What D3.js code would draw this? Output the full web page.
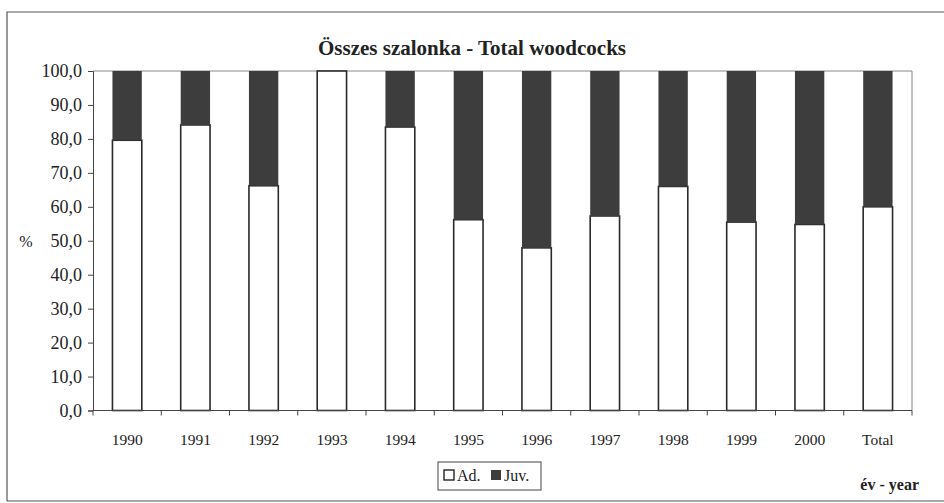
<!DOCTYPE html>
<html><head><meta charset="utf-8">
<script src="https://cdn.jsdelivr.net/npm/d3@7"></script>
<style>body{margin:0;background:#fff}svg{display:block}</style>
</head><body><svg id="c" width="944" height="503"></svg>
<script>
const categories = ["1990","1991","1992","1993","1994","1995","1996","1997","1998","1999","2000","Total"];
const adult = [79.6, 84.1, 66.2, 100.0, 83.5, 56.2, 47.9, 57.3, 66.0, 55.5, 54.8, 60.0];
const juvenile = adult.map(a => +(100 - a).toFixed(1));
const yTicks = [0,10,20,30,40,50,60,70,80,90,100];
const seriesNames = ["Ad.","Juv."];
const seriesColors = ["#ffffff","#3d3d3d"];
const FONT = "'Liberation Serif','Times New Roman','DejaVu Serif',serif";

const svg = d3.select("#c");
const m = {left:93, right:912, top:71, bottom:410.5};
svg.append("path").attr("d","M7,501 L7,12 L944,12 M7,501 L944,501").attr("fill","none").attr("stroke","#555").attr("stroke-width",1.2);

const x = d3.scaleBand().domain(categories).range([m.left,m.right]).paddingInner(0.57).paddingOuter(0.285);
const y = d3.scaleLinear().domain([0,100]).range([m.bottom,m.top]);

svg.append("path").attr("d",`M${m.left},${m.top} L${m.right},${m.top} L${m.right},${m.bottom}`).attr("fill","none").attr("stroke","#888").attr("stroke-width",1);

const stack = d3.stack().keys([0,1])(categories.map((c,i)=>({0:adult[i],1:juvenile[i]})));
stack.forEach((s,k)=>{
  svg.append("g").selectAll("rect").data(s).join("rect")
    .attr("x",(d,i)=>x(categories[i]))
    .attr("width",x.bandwidth())
    .attr("y",d=>y(d[1]))
    .attr("height",d=>Math.max(0,y(d[0])-y(d[1])))
    .attr("fill",seriesColors[k])
    .attr("stroke","#2a2a2a").attr("stroke-width",k===0?1.6:0);
});

const ya = svg.append("g").attr("transform",`translate(${m.left},0)`)
  .call(d3.axisLeft(y).tickValues(yTicks).tickSize(5).tickPadding(6).tickFormat(d=>d3.format(".1f")(d).replace(".",",")));
ya.attr("font-family",FONT).attr("font-size",18);
ya.select(".domain").attr("stroke","#444");
ya.selectAll("line").attr("stroke","#444");
ya.selectAll("text").attr("fill","#222").attr("font-family",FONT).attr("font-size",18);

const xa = svg.append("g").attr("transform",`translate(0,${m.bottom})`);
xa.append("line").attr("x1",m.left).attr("x2",m.right).attr("stroke","#444");
const step = x.step();
xa.selectAll("line.t").data(d3.range(categories.length+1)).join("line").attr("class","t")
  .attr("x1",i=>m.left+i*step).attr("x2",i=>m.left+i*step).attr("y1",0).attr("y2",5).attr("stroke","#444");
xa.selectAll("text").data(categories).join("text")
  .attr("x",d=>x(d)+x.bandwidth()/2).attr("y",34).attr("text-anchor","middle")
  .attr("font-family",FONT).attr("font-size",15.5).attr("fill","#222").text(d=>d);

svg.append("text").attr("x",472).attr("y",55).attr("text-anchor","middle").attr("font-family",FONT)
  .attr("font-size",21).attr("font-weight","bold").attr("fill","#222").text("Összes szalonka - Total woodcocks");
svg.append("text").attr("x",26).attr("y",247).attr("text-anchor","middle").attr("font-family",FONT).attr("font-size",16).attr("fill","#222").text("%");
svg.append("text").attr("x",919).attr("y",490).attr("text-anchor","end").attr("font-family",FONT).attr("font-size",16).attr("font-weight","bold").attr("fill","#222").text("év - year");

const lg = svg.append("g");
lg.append("rect").attr("x",438).attr("y",462).attr("width",103).attr("height",28).attr("fill","#fff").attr("stroke","#444");
const lx = [444, 491];
seriesNames.forEach((n,i)=>{
  lg.append("rect").attr("x",lx[i]).attr("y",470).attr("width",10).attr("height",10).attr("fill",seriesColors[i]).attr("stroke","#222").attr("stroke-width",i===0?1.4:0);
  lg.append("text").attr("x",lx[i]+13).attr("y",480.5).attr("font-family",FONT).attr("font-size",16).attr("fill","#222").text(n);
});
</script></body></html>
